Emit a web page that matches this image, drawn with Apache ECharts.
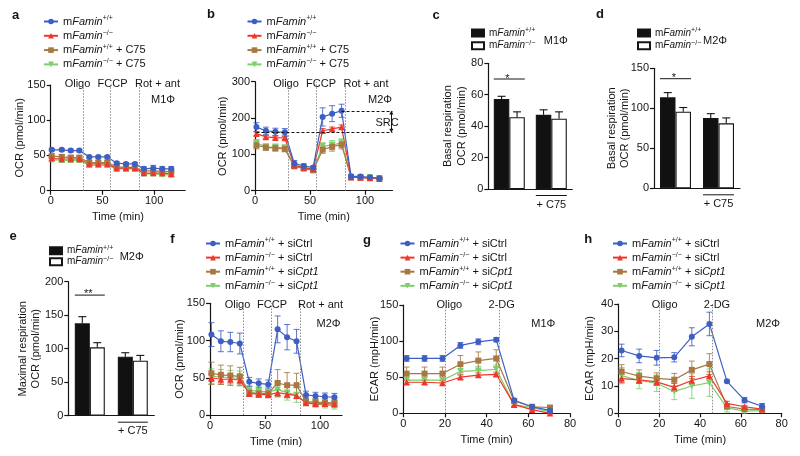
<!DOCTYPE html>
<html><head><meta charset="utf-8">
<script src="https://cdn.jsdelivr.net/npm/echarts@6/dist/echarts.min.js"></script>
<style>html,body{margin:0;padding:0;background:#fff}#c{width:800px;height:456px}</style>
</head><body><div id="c"></div>
<script>
// ---------------- DATA ----------------
const aTime = [1.0, 10.7, 19.4, 27.7, 37.3, 46.0, 54.7, 63.8, 72.8, 81.4, 90.1, 99.1, 107.8, 116.5];
const aInjections = [31, 58, 85.5];
const ocrTime = [1.3, 9.9, 18.5, 27.1, 35.7, 44.3, 52.9, 61.5, 70.1, 78.7, 87.3, 95.9, 104.5, 113.1];
const ecarTime = [1.6, 10.2, 18.8, 27.4, 36.0, 44.6, 53.2, 61.8, 70.4];
const ocrInjections = [30, 56, 82];
const ecarInjections = [20, 46];
const ocrTickLabels = [0, 50, 100];
const barCategories = ['', '+ C75'];

// panel a (M1, OCR)
const aWT = [58, 58, 57, 57, 48, 48, 48, 39, 38, 38, 31, 32, 31, 31];
const aWTerr = [2, 2, 2, 2, 1.5, 1.5, 1.5, 2, 2, 2, 3, 4, 3, 3];
const aKO = [46, 45, 45, 45, 38, 38, 38, 32, 32, 32, 25, 25, 25, 24];
const aKOerr = [3, 3, 3, 3, 2, 2, 2, 2, 2, 2, 2, 2, 2, 3];
const aWTc = [49, 48, 47, 47, 40, 40, 40, 34, 33, 33, 28, 28, 27, 27];
const aWTcErr = [3, 3, 3, 3, 3, 3, 3, 2, 2, 2, 3, 3, 3, 3];
const aKOc = [44, 43, 43, 43, 36, 36, 36, 31, 31, 31, 24, 24, 23, 22];
const aKOcErr = [3, 3, 3, 3, 3, 3, 3, 3, 3, 3, 3, 3, 3, 3];

// panel b (M2, OCR)
const bWT = [175, 165, 162, 161, 75, 68, 64, 203, 212, 220, 40, 39, 37, 34];
const bWTerr = [12, 10, 10, 10, 8, 6, 4, 25, 22, 18, 3, 3, 3, 3];
const bKO = [157, 148, 146, 145, 70, 63, 60, 165, 170, 175, 37, 36, 35, 33];
const bKOerr = [5, 4, 4, 4, 4, 4, 3, 6, 5, 6, 2, 2, 2, 2];
const bWTc = [125, 119, 117, 115, 67, 61, 56, 113, 121, 127, 37, 36, 35, 33];
const bWTcErr = [10, 8, 8, 8, 4, 4, 4, 10, 12, 12, 2, 2, 2, 2];
const bKOc = [131, 121, 120, 118, 70, 64, 58, 122, 126, 131, 38, 37, 36, 34];
const bKOcErr = [10, 8, 8, 8, 4, 4, 4, 10, 12, 12, 2, 2, 2, 2];
const srcLevels = [160, 220];

// panel c (M1 basal), d (M2 basal), e (M2 maximal)
const cWT = [57.3, 47.2], cWTerr = [1.7, 3.2];
const cKO = [45.7, 44.7], cKOerr = [3.4, 4.4];
const dWT = [113.7, 88], dWTerr = [5.9, 5.3];
const dKO = [95.8, 81.2], dKOerr = [5.2, 6.8];
const eWT = [137.8, 88], eWTerr = [10, 6];
const eKO = [102, 82], eKOerr = [7, 8];
const sigLevels = {c: 70, d: 137, e: 180};

// panel f (M2, OCR, siRNA)
const fWT = [108, 99, 98, 96, 44.5, 42.5, 41, 115, 104.5, 99, 27, 25.5, 24.5, 24];
const fWTerr = [16, 14, 13, 14, 6, 6, 6, 18, 17, 16, 5, 5, 5, 5];
const fKO = [50, 48, 48, 47, 29, 28, 27, 30, 28, 26, 16, 15, 15, 14.5];
const fKOerr = [5, 5, 5, 5, 4, 4, 3, 4, 4, 4, 3, 3, 3, 3];
const fWTsi = [56, 54, 53, 52, 30, 29, 29, 43, 40, 40, 18, 17, 17, 16];
const fWTsiErr = [15, 13, 13, 12, 5, 5, 5, 18, 17, 16, 5, 5, 5, 5];
const fKOsi = [52, 51, 50, 49, 33, 32, 31, 34, 30, 27, 17, 14.5, 13.5, 12];
const fKOsiErr = [10, 10, 10, 10, 6, 6, 6, 10, 10, 10, 4, 4, 4, 4];

// panel g (M1, ECAR)
const gWT = [76, 76, 76, 94, 99, 102, 18, 9, 4];
const gWTerr = [4, 4, 4, 4, 4, 3, 2, 2, 2];
const gKO = [43, 43, 42, 50, 53, 54, 12, 5, 0];
const gKOerr = [3, 3, 3, 3, 3, 3, 2, 2, 1];
const gWTsi = [55, 55, 55, 68, 73, 76, 17, 9, 8];
const gWTsiErr = [9, 9, 9, 12, 12, 12, 3, 3, 2];
const gKOsi = [46, 46, 46, 58, 59, 61, 12, 8, 2];
const gKOsiErr = [4, 4, 4, 4, 6, 6, 2, 2, 1];

// panel h (M2, ECAR)
const hWT = [23, 21, 20.3, 20.5, 28, 32.7, 11.7, 4.8, 2.6];
const hWTerr = [2.3, 2.5, 2.7, 1.7, 3.3, 4.3, 0.5, 1, 1];
const hKO = [12.7, 12.2, 11.5, 9.5, 12, 13.7, 3.6, 2.4, 1.5];
const hKOerr = [1.5, 1.3, 1.3, 1.5, 1.5, 1.5, 0.8, 0.5, 0.4];
const hWTsi = [15.3, 13.6, 12.8, 12.3, 15.9, 18, 2.5, 1.5, 1.4];
const hWTsiErr = [2.5, 2.3, 2, 2.3, 3.2, 3.8, 1, 0.5, 0.4];
const hKOsi = [13.8, 12, 11, 8, 10, 11.2, 2, 0.8, 1];
const hKOsiErr = [3, 3, 3, 3, 4.5, 5, 1.5, 0.7, 0.5];

// ---------------- STYLE / LAYOUT ----------------
const INK = '#151515';
const FONT = '"Liberation Sans", Arial, Helvetica, sans-serif';
const S = {
  WT: {color: '#3d5fc4', symbol: 'circle', size: 6},
  KO: {color: '#f0352a', symbol: 'triangle', size: 6.5},
  WT2: {color: '#a87843', symbol: 'rect', size: 6},
  KO2: {color: '#7ccf69', symbol: 'path://M0,0L10,0L5,9Z', size: 6.5}
};
const P = [
  {left: 50.7, top: 85, width: 134.5, height: 105.7},   // a
  {left: 255, top: 81.7, width: 137.5, height: 109},    // b
  {left: 488.3, top: 63.3, width: 84, height: 125.7},   // c
  {left: 654, top: 68.3, width: 86, height: 120},       // d
  {left: 68.3, top: 281.7, width: 86, height: 134},     // e
  {left: 210, top: 303.3, width: 132, height: 111.7},   // f
  {left: 403.3, top: 305, width: 166.7, height: 108.3}, // g
  {left: 618.3, top: 304, width: 163.4, height: 109.3}  // h
];
const BW = [0, 0, 15.5, 15.5, 15];

const chart = echarts.init(document.getElementById('c'), null, {renderer: 'canvas', width: 800, height: 456});

function axisBase(gi) {
  return {
    gridIndex: gi,
    axisLine: {show: true, onZero: false, lineStyle: {color: INK, width: 1.2}},
    axisTick: {show: true, length: 4, inside: false, lineStyle: {color: INK, width: 1.2}},
    axisLabel: {color: INK, fontSize: 11, fontFamily: FONT, margin: 5},
    splitLine: {show: false},
    nameLocation: 'middle',
    nameMoveOverlap: false,
    nameTextStyle: {color: INK, fontSize: 11, fontFamily: FONT, lineHeight: 13.5}
  };
}
function yAx(gi, max, interval, name, gap) {
  return Object.assign(axisBase(gi), {type: 'value', min: 0, max, interval, name, nameGap: gap});
}
function xTime(gi, max, interval, custom) {
  const a = Object.assign(axisBase(gi), {type: 'value', min: 0, max, interval, name: 'Time (min)', nameGap: 20});
  if (custom) {
    a.axisLabel.customValues = custom;
    a.axisTick.customValues = custom;
    a.axisLabel.formatter = v => (custom.indexOf(v) >= 0 ? String(v) : '');
  }
  return a;
}
function xCat(gi) {
  const a = Object.assign(axisBase(gi), {type: 'category', data: barCategories});
  a.axisTick = {show: false};
  a.axisLabel.margin = 10;
  return a;
}

const xAxes = [
  xTime(0, 130, 50, ocrTickLabels), xTime(1, 125, 50, ocrTickLabels),
  xCat(2), xCat(3), xCat(4),
  xTime(5, 120, 50, ocrTickLabels), xTime(6, 80, 20), xTime(7, 80, 20)
];
const yAxes = [
  yAx(0, 150, 50, 'OCR (pmol/min)', 24), yAx(1, 300, 100, 'OCR (pmol/min)', 25),
  yAx(2, 80, 20, 'Basal respiration\nOCR (pmol/min)', 20),
  yAx(3, 150, 50, 'Basal respiration\nOCR (pmol/min)', 22),
  yAx(4, 200, 50, 'Maximal respiration\nOCR (pmol/min)', 25.5),
  yAx(5, 150, 50, 'OCR (pmol/min)', 23.5), yAx(6, 150, 50, 'ECAR (mpH/min)', 22),
  yAx(7, 40, 10, 'ECAR (mpH/min)', 22)
];

function lineS(name, gi, xs, ys, st) {
  return {
    type: 'line', name, xAxisIndex: gi, yAxisIndex: gi, z: 4,
    data: xs.map((x, i) => [x, ys[i]]),
    symbol: st.symbol, symbolSize: st.size, showSymbol: true,
    lineStyle: {color: st.color, width: 1.2}, itemStyle: {color: st.color},
    emphasis: {disabled: true}
  };
}
function errS(gi, xs, ys, es, color) {
  return {
    type: 'custom', xAxisIndex: gi, yAxisIndex: gi, z: 3, silent: true, clip: false,
    data: xs.map((x, i) => [x, ys[i], es[i]]),
    renderItem: (p, api) => {
      const x = api.value(0), y = api.value(1), e = api.value(2);
      const t = api.coord([x, y + e]), b = api.coord([x, y - e]);
      const st = {stroke: color, lineWidth: 1, opacity: 0.85};
      return {type: 'group', children: [
        {type: 'line', shape: {x1: t[0], y1: t[1], x2: b[0], y2: b[1]}, style: st},
        {type: 'line', shape: {x1: t[0] - 3, y1: t[1], x2: t[0] + 3, y2: t[1]}, style: st},
        {type: 'line', shape: {x1: b[0] - 3, y1: b[1], x2: b[0] + 3, y2: b[1]}, style: st}
      ]};
    }
  };
}
function injections(vals) {
  return {silent: true, symbol: ['none', 'none'], label: {show: false}, emphasis: {disabled: true},
    lineStyle: {color: '#8c8c8c', type: [1.5, 1.5], width: 1},
    data: vals.map(v => ({xAxis: v}))};
}
function group4(gi, xs, names, sets, inj) {
  const keys = ['WT', 'KO', 'WT2', 'KO2'];
  const out = [];
  [3, 2, 1, 0].forEach(k => {
    const st = S[keys[k]];
    out.push(errS(gi, xs, sets[k][0], sets[k][1], st.color));
    const l = lineS(names[k], gi, xs, sets[k][0], st);
    if (k === 0) l.markLine = injections(inj);
    out.push(l);
  });
  return out;
}
function barS(name, gi, vals, fill) {
  return {type: 'bar', name, xAxisIndex: gi, yAxisIndex: gi, data: vals, barWidth: BW[gi], barGap: '0%',
    itemStyle: {color: fill, borderColor: INK, borderWidth: 1.1}, emphasis: {disabled: true}, z: 2};
}
function barErr(gi, vals, errs, side) {
  const bw = BW[gi];
  return {type: 'custom', xAxisIndex: gi, yAxisIndex: gi, z: 3, silent: true, clip: false,
    data: vals.map((v, i) => [i, v, errs[i]]),
    renderItem: (p, api) => {
      const c = api.coord([api.value(0), api.value(1)]);
      const t = api.coord([api.value(0), api.value(1) + api.value(2)]);
      const x = c[0] + side * bw / 2;
      const st = {stroke: INK, lineWidth: 1.1};
      return {type: 'group', children: [
        {type: 'line', shape: {x1: x, y1: c[1], x2: x, y2: t[1]}, style: st},
        {type: 'line', shape: {x1: x - 4, y1: t[1], x2: x + 4, y2: t[1]}, style: st}
      ]};
    }};
}
function barAnnot(gi, sig) {
  const bw = BW[gi];
  return {type: 'custom', xAxisIndex: gi, yAxisIndex: gi, z: 3, silent: true, clip: false,
    data: [[0, sig]],
    renderItem: (p, api) => {
      const s = api.coord([0, api.value(1)]);
      const o = api.coord([1, 0]);
      const st = {stroke: INK, lineWidth: 1};
      return {type: 'group', children: [
        {type: 'line', shape: {x1: s[0] - bw, y1: s[1], x2: s[0] + bw, y2: s[1]}, style: st},
        {type: 'line', shape: {x1: o[0] - bw, y1: o[1] + 6.5, x2: o[0] + bw, y2: o[1] + 6.5}, style: st}
      ]};
    }};
}

const NC = ['WT', 'KO', 'WT + C75', 'KO + C75'];
const NS = ['WT + siCtrl', 'KO + siCtrl', 'WT + siCpt1', 'KO + siCpt1'];
const NB = ['WT bar', 'KO bar'];

let series = [];
series = series.concat(group4(0, aTime, NC, [[aWT, aWTerr], [aKO, aKOerr], [aWTc, aWTcErr], [aKOc, aKOcErr]], aInjections));
series = series.concat(group4(1, ocrTime, NC, [[bWT, bWTerr], [bKO, bKOerr], [bWTc, bWTcErr], [bKOc, bKOcErr]], ocrInjections));
series = series.concat(group4(5, ocrTime, NS, [[fWT, fWTerr], [fKO, fKOerr], [fWTsi, fWTsiErr], [fKOsi, fKOsiErr]], ocrInjections));
series = series.concat(group4(6, ecarTime, NS, [[gWT, gWTerr], [gKO, gKOerr], [gWTsi, gWTsiErr], [gKOsi, gKOsiErr]], ecarInjections));
series = series.concat(group4(7, ecarTime, NS, [[hWT, hWTerr], [hKO, hKOerr], [hWTsi, hWTsiErr], [hKOsi, hKOsiErr]], ecarInjections));

// spare respiratory capacity markers (panel b)
series.push({type: 'line', xAxisIndex: 1, yAxisIndex: 1, data: [], silent: true,
  markLine: {silent: true, symbol: ['none', 'none'], label: {show: false}, emphasis: {disabled: true},
    lineStyle: {color: INK, type: [3, 2], width: 1},
    data: [
      [{coord: [ocrTime[9], srcLevels[1]]}, {coord: [125, srcLevels[1]]}],
      [{coord: [ocrTime[0], srcLevels[0]]}, {coord: [125, srcLevels[0]]}],
      [{coord: [124, srcLevels[1] - 5], symbol: 'triangle', symbolSize: [4, 4], lineStyle: {type: 'solid'}},
       {coord: [124, srcLevels[0] + 5], symbol: 'triangle', symbolSize: [4, 4]}]
    ]}});

[[2, cWT, cWTerr, cKO, cKOerr, sigLevels.c], [3, dWT, dWTerr, dKO, dKOerr, sigLevels.d], [4, eWT, eWTerr, eKO, eKOerr, sigLevels.e]]
  .forEach(([gi, w, we, k, ke, sig]) => {
    series.push(barS('WT bar', gi, w, '#111'));
    series.push(barS('KO bar', gi, k, '#fff'));
    series.push(barErr(gi, w, we, -1));
    series.push(barErr(gi, k, ke, 1));
    series.push(barAnnot(gi, sig));
  });

// ---------------- LEGENDS ----------------
const LT = {
  'WT': '{t|m}{i|Famin}{s|+/+}',
  'KO': '{t|m}{i|Famin}{s|−/−}',
  'WT + C75': '{t|m}{i|Famin}{s|+/+}{t| + C75}',
  'KO + C75': '{t|m}{i|Famin}{s|−/−}{t| + C75}',
  'WT + siCtrl': '{t|m}{i|Famin}{s|+/+}{t| + siCtrl}',
  'KO + siCtrl': '{t|m}{i|Famin}{s|−/−}{t| + siCtrl}',
  'WT + siCpt1': '{t|m}{i|Famin}{s|+/+}{t| + si}{i|Cpt1}',
  'KO + siCpt1': '{t|m}{i|Famin}{s|−/−}{t| + si}{i|Cpt1}',
  'WT bar': '{t|m}{i|Famin}{s|+/+}',
  'KO bar': '{t|m}{i|Famin}{s|−/−}'
};
function richFor(size, lh) {
  return {
    t: {fontSize: size, fontFamily: FONT, color: INK, lineHeight: lh},
    i: {fontSize: size, fontFamily: FONT, color: INK, fontStyle: 'italic', lineHeight: lh},
    s: {fontSize: Math.round(size * 0.65), fontFamily: FONT, color: INK, verticalAlign: 'top'}
  };
}
function leg(names, left, top, line, gap) {
  const size = line ? 11 : 10;
  const o = {data: names, left, top, orient: 'vertical', padding: 0, selectedMode: false,
    itemWidth: line ? 14 : 12, itemHeight: 7, itemGap: gap,
    formatter: n => LT[n], textStyle: {fontSize: size, fontFamily: FONT, color: INK, rich: richFor(size, line ? 13 : 12)}};
  if (!line) o.icon = 'rect';
  return o;
}
const legends = [
  leg(NC, 43, 15, true, 2.3), leg(NC, 246.5, 15, true, 2.3),
  leg(NB, 471, 27, false, 1.7), leg(NB, 637, 27, false, 1.7), leg(NB, 49, 244.7, false, 0),
  leg(NS, 205, 237, true, 2.1), leg(NS, 399.5, 237, true, 2.1), leg(NS, 612, 237, true, 2.1)
];

// ---------------- TEXT ANNOTATIONS ----------------
function T(text, x, y, size, weight) {
  return {type: 'text', x, y, silent: true,
    style: {text, fill: INK, font: (weight || 'normal') + ' ' + (size || 11) + 'px ' + FONT, align: 'center', verticalAlign: 'middle'}};
}
const texts = [
  T('a', 15.5, 15, 13, 'bold'), T('b', 211, 14, 13, 'bold'), T('c', 436, 15, 13, 'bold'), T('d', 600, 14, 13, 'bold'),
  T('e', 13, 236, 13, 'bold'), T('f', 172.5, 239, 13, 'bold'), T('g', 367, 240, 13, 'bold'), T('h', 588.3, 239, 13, 'bold'),
  T('Oligo', 77.5, 84), T('FCCP', 112.5, 84), T('Rot + ant', 157.5, 84), T('M1Φ', 163, 99.5),
  T('Oligo', 286, 84), T('FCCP', 321, 84), T('Rot + ant', 366, 84), T('M2Φ', 380, 99.5), T('SRC', 387, 123),
  T('M1Φ', 555.8, 40.7), T('M2Φ', 715, 40.7), T('M2Φ', 131.7, 256.7),
  T('*', 507.3, 79), T('*', 674, 78), T('**', 88.3, 294),
  T('Oligo', 237.5, 305), T('FCCP', 272, 305), T('Rot + ant', 320.5, 305), T('M2Φ', 328.5, 324),
  T('Oligo', 449.3, 305), T('2-DG', 501.7, 305), T('M1Φ', 543.3, 324),
  T('Oligo', 664.7, 305), T('2-DG', 717, 305), T('M2Φ', 768, 324)
];

chart.setOption({
  animation: false,
  backgroundColor: '#fff',
  textStyle: {fontFamily: FONT},
  grid: P.map(g => Object.assign({containLabel: false}, g)),
  xAxis: xAxes,
  yAxis: yAxes,
  legend: legends,
  series,
  graphic: texts
});
</script>
</body></html>
